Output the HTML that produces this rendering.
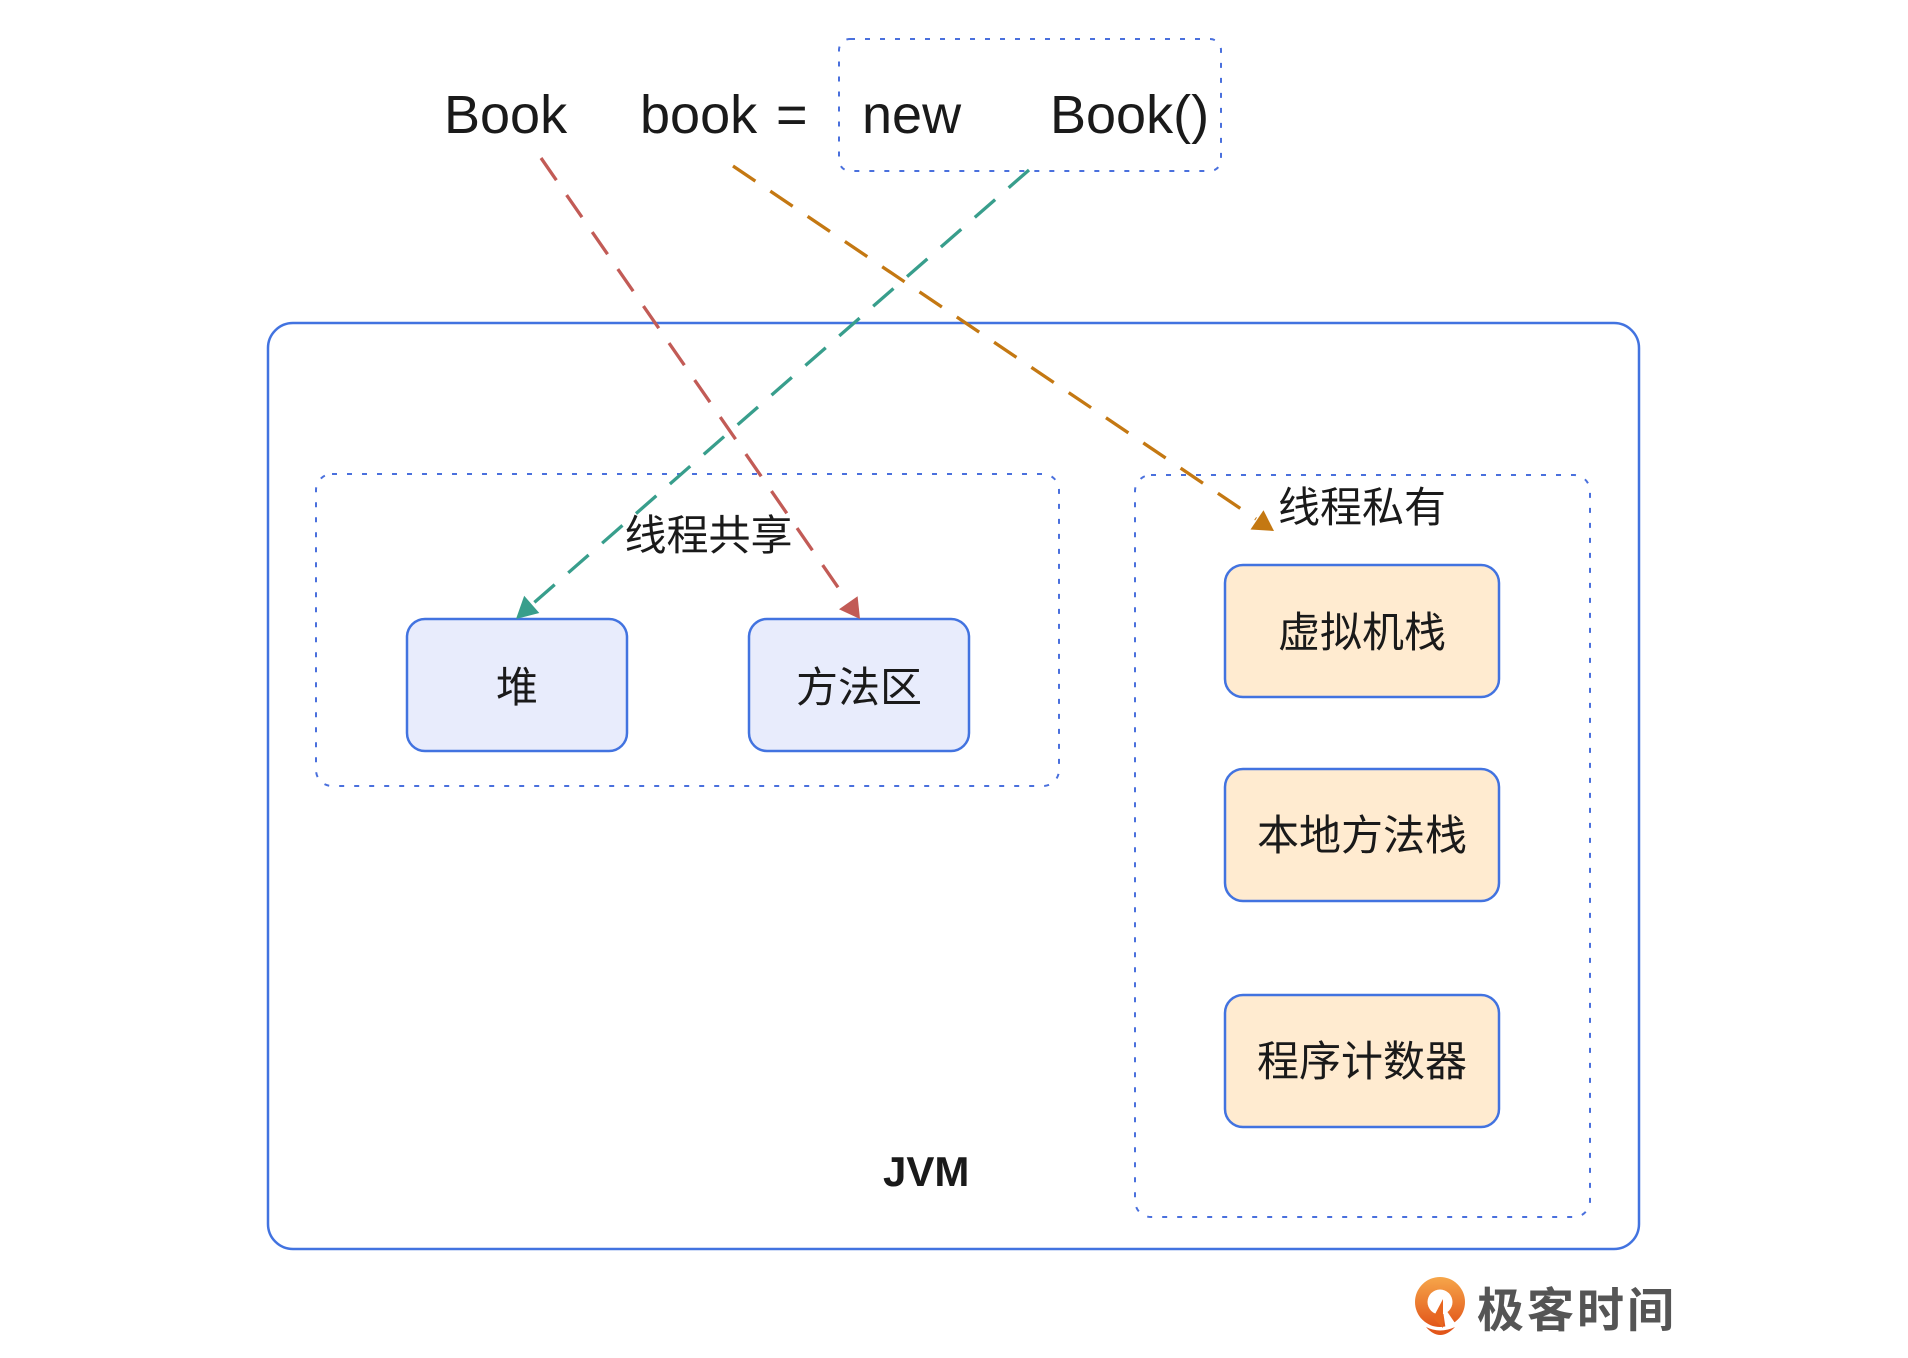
<!DOCTYPE html>
<html><head><meta charset="utf-8"><style>
html,body{margin:0;padding:0;background:#fff;}
svg{display:block;}
.en{font-family:"Liberation Sans",Arial,sans-serif;fill:#1a1a1a;}
.cn{font-family:"Liberation Sans","Noto Sans CJK SC",sans-serif;fill:#1a1a1a;}
</style></head><body>
<svg width="1908" height="1358" viewBox="0 0 1908 1358" xmlns="http://www.w3.org/2000/svg">
<defs>
<linearGradient id="lg" x1="0" y1="0" x2="0" y2="1">
<stop offset="0" stop-color="#f6a64a"/><stop offset="1" stop-color="#e2561a"/>
</linearGradient>
</defs>
<rect width="1908" height="1358" fill="#fff"/>

<!-- top dotted box -->
<rect x="839" y="39" width="382" height="132" rx="11" fill="none" stroke="#4a70dd" stroke-width="2" stroke-dasharray="5 10"/>

<!-- top code text -->
<text class="en" x="444" y="133" font-size="54">Book</text>
<text class="en" x="640" y="133" font-size="54">book</text>
<text class="en" x="776" y="133" font-size="54">=</text>
<text class="en" x="862" y="133" font-size="54">new</text>
<text class="en" x="1050" y="133" font-size="54">Book()</text>

<!-- JVM box -->
<rect x="268" y="323" width="1371" height="926" rx="25" fill="#fff" stroke="#4273e0" stroke-width="2.5"/>

<!-- shared dotted box -->
<rect x="316" y="474" width="743" height="312" rx="16" fill="none" stroke="#4a70dd" stroke-width="2" stroke-dasharray="5 10"/>
<!-- private dotted box -->
<rect x="1135" y="475" width="455" height="742" rx="16" fill="none" stroke="#4a70dd" stroke-width="2" stroke-dasharray="5 10"/>

<!-- shared nodes -->
<rect x="407" y="619" width="220" height="132" rx="18" fill="#e8ecfc" stroke="#4273e0" stroke-width="2.5"/>
<rect x="749" y="619" width="220" height="132" rx="18" fill="#e8ecfc" stroke="#4273e0" stroke-width="2.5"/>

<!-- private nodes -->
<rect x="1225" y="565" width="274" height="132" rx="18" fill="#ffebd0" stroke="#4273e0" stroke-width="2.5"/>
<rect x="1225" y="769" width="274" height="132" rx="18" fill="#ffebd0" stroke="#4273e0" stroke-width="2.5"/>
<rect x="1225" y="995" width="274" height="132" rx="18" fill="#ffebd0" stroke="#4273e0" stroke-width="2.5"/>

<!-- connectors -->
<line x1="541" y1="158" x2="847.5" y2="601" stroke="#c25b56" stroke-width="3.3" stroke-dasharray="27 18"/>
<polygon points="860,619 839,609.2 857.6,596.3" fill="#c25b56"/>

<line x1="733" y1="166" x2="1256" y2="519" stroke="#c47812" stroke-width="3.3" stroke-dasharray="27 18"/>
<polygon points="1274,531 1250.5,529.5 1263.5,510.3" fill="#c47812"/>

<line x1="1029" y1="170" x2="532" y2="604.5" stroke="#389e8c" stroke-width="3.3" stroke-dasharray="27 18"/>
<polygon points="516,619 539.3,613 524.2,595.8" fill="#389e8c"/>

<!-- labels -->
<text class="cn" x="708.5" y="550" font-size="42" text-anchor="middle">线程共享</text>
<text class="cn" x="1362" y="522" font-size="42" text-anchor="middle">线程私有</text>
<text class="cn" x="517" y="702" font-size="42" text-anchor="middle">堆</text>
<text class="cn" x="859" y="702" font-size="42" text-anchor="middle">方法区</text>
<text class="cn" x="1362" y="647" font-size="42" text-anchor="middle">虚拟机栈</text>
<text class="cn" x="1362" y="850" font-size="42" text-anchor="middle">本地方法栈</text>
<text class="cn" x="1362" y="1076" font-size="42" text-anchor="middle">程序计数器</text>
<text class="en" x="883" y="1186" font-size="42" font-weight="bold">JVM</text>

<!-- watermark logo -->
<circle cx="1440" cy="1302" r="25" fill="url(#lg)"/>
<circle cx="1440" cy="1302" r="12.5" fill="#fff"/>
<polygon points="1442,1304 1446,1331 1457,1326" fill="#fff"/>
<polygon points="1443,1299 1433,1318 1443,1328" fill="#e8661f"/>
<path d="M1426,1327 Q1440,1343 1455,1327 Q1440,1334 1426,1327 Z" fill="#e2561a"/>
<text x="1477" y="1327" font-size="47" font-weight="bold" letter-spacing="3" font-family="'Liberation Sans','Noto Sans CJK SC',sans-serif" fill="#555555">极客时间</text>
</svg>
</body></html>
